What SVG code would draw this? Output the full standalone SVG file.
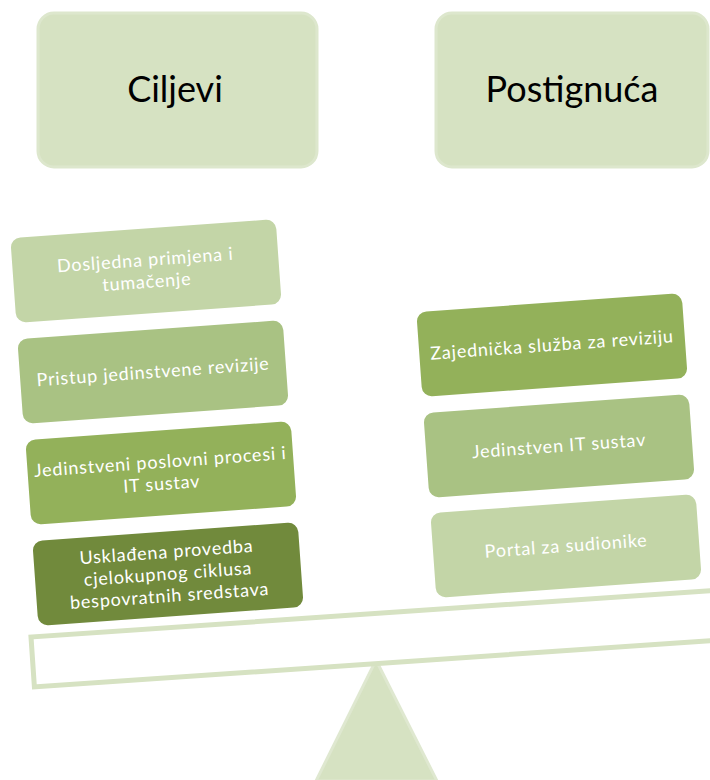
<svg xmlns="http://www.w3.org/2000/svg" width="710" height="780" viewBox="0 0 710 780">
<style>
.hdr{fill:#d6e2c2;stroke:#dde7cd;stroke-width:3}
.ht{font-family:Lato,"Open Sans",sans-serif;font-size:36px;fill:#000;text-anchor:middle}
.it{font-family:Lato,"Open Sans",sans-serif;font-size:18px;fill:#fff;text-anchor:middle;letter-spacing:0.8px}
.c1{fill:#c3d5a7}.c2{fill:#a9c283}.c3{fill:#93b15a}.c4{fill:#718a3c}
</style>
<rect width="710" height="780" fill="#fff"/>
<g id="fulcrum"><polygon points="376,660 437,781 316,781" fill="#d6e2c2" stroke="#dfe8d0" stroke-width="3"/></g>
<g id="beam" transform="translate(31,637) rotate(-3.9)"><rect x="0" y="0" width="720" height="50" fill="#fff" stroke="#d6e2c2" stroke-width="5"/></g>
<g id="ciljevi"><rect class="hdr" x="38" y="13" width="279" height="154" rx="16"/><text class="ht" x="175" y="102">Ciljevi</text></g>
<g id="postignuca"><rect class="hdr" x="436" y="13" width="272" height="154" rx="16"/><text class="ht" x="572" y="102">Postignuća</text></g>
<g id="l1" transform="translate(146,271) rotate(-4.1)"><rect class="c1" x="-133" y="-42.5" width="266" height="85" rx="10"/><text class="it" y="-5">Dosljedna primjena i</text><text class="it" y="17">tumačenje</text></g>
<g id="l2" transform="translate(153,372) rotate(-4.1)"><rect class="c2" x="-133" y="-42.5" width="266" height="85" rx="10"/><text class="it" y="6">Pristup jedinstvene revizije</text></g>
<g id="l3" transform="translate(161,473) rotate(-4.1)"><rect class="c3" x="-133" y="-42.5" width="266" height="85" rx="10"/><text class="it" y="-5">Jedinstveni poslovni procesi i</text><text class="it" y="17">IT sustav</text></g>
<g id="l4" transform="translate(168,574) rotate(-4.1)"><rect class="c4" x="-133" y="-42.5" width="266" height="85" rx="10"/><text class="it" y="-16">Usklađena provedba</text><text class="it" y="6">cjelokupnog ciklusa</text><text class="it" y="28">bespovratnih sredstava</text></g>
<g id="r1" transform="translate(552,345) rotate(-4.1)"><rect class="c3" x="-133" y="-42.5" width="266" height="85" rx="10"/><text class="it" y="6">Zajednička služba za reviziju</text></g>
<g id="r2" transform="translate(559,446) rotate(-4.1)"><rect class="c2" x="-133" y="-42.5" width="266" height="85" rx="10"/><text class="it" y="6">Jedinstven IT sustav</text></g>
<g id="r3" transform="translate(566,546) rotate(-4.1)"><rect class="c1" x="-133" y="-42.5" width="266" height="85" rx="10"/><text class="it" y="6">Portal za sudionike</text></g>
<g id="connectors"></g>
</svg>
